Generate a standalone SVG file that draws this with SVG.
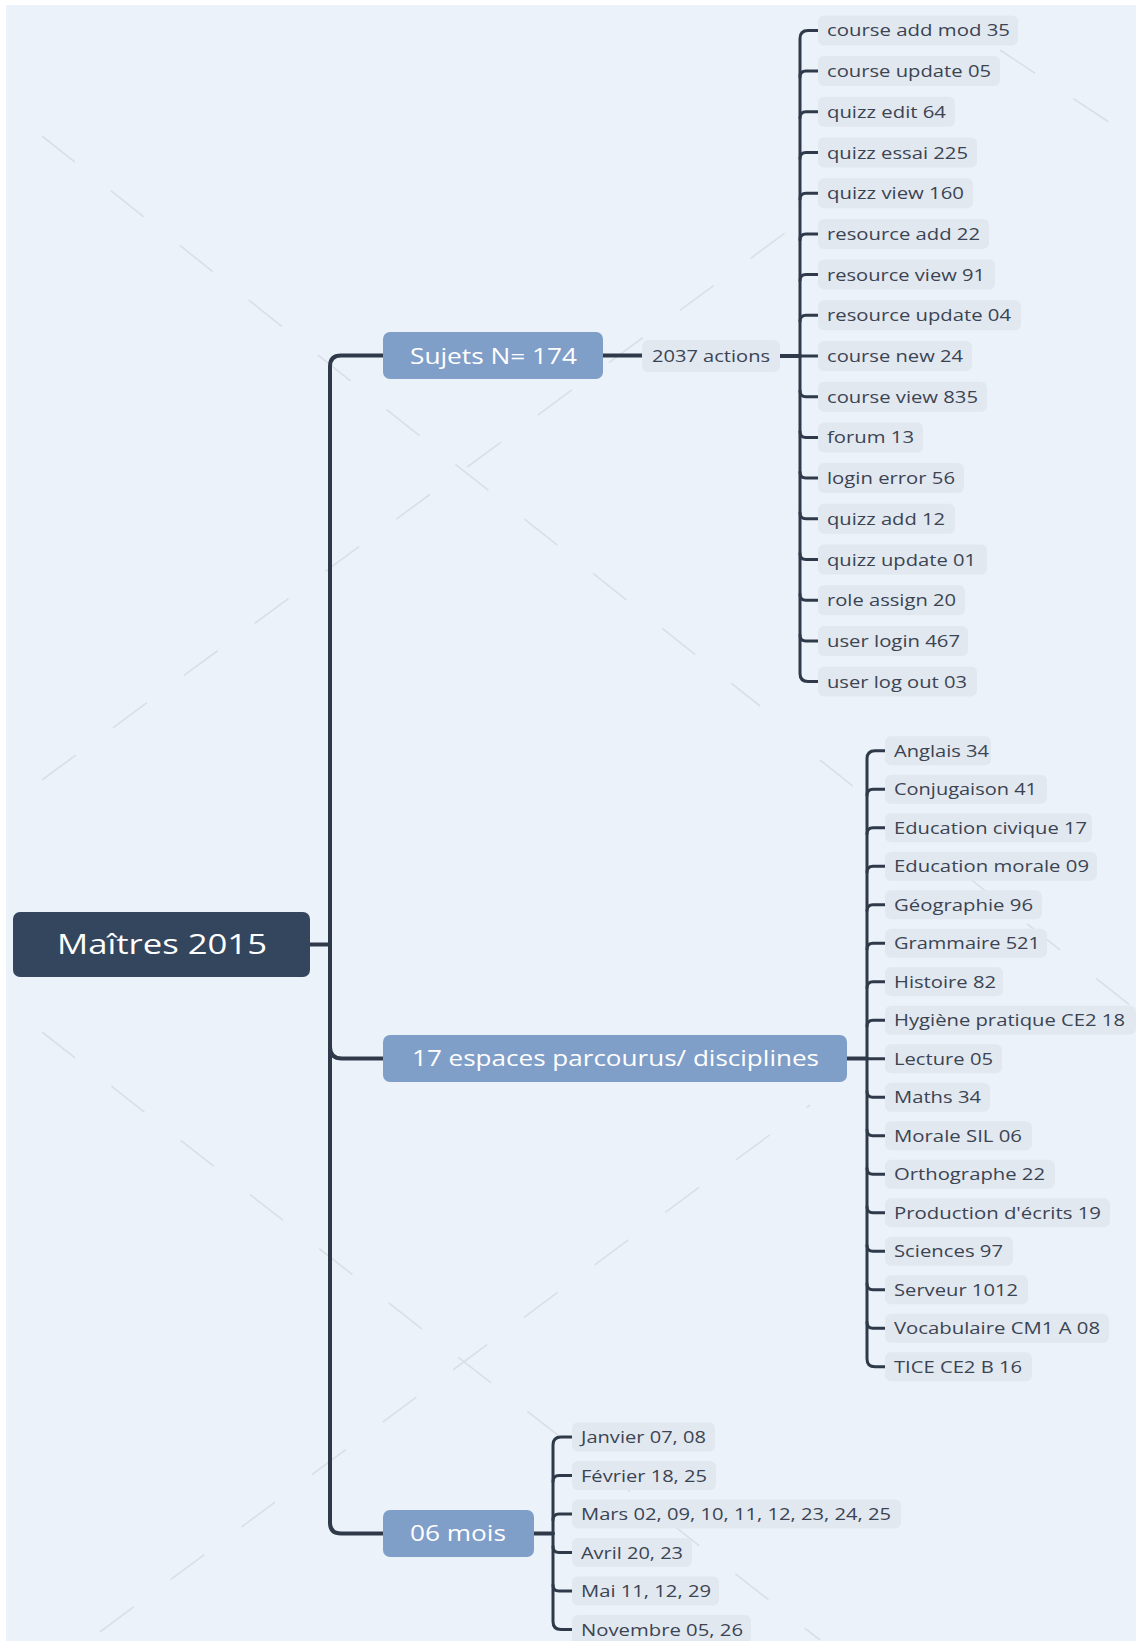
<svg xmlns="http://www.w3.org/2000/svg" width="1136" height="1641" viewBox="0 0 1136 1641">
  <style>
    .bg { fill: #ecf2f9; }
    .wm { fill: none; stroke: #d9dfe7; stroke-width: 1.6; stroke-dasharray: 42 46; }
    .root rect { fill: #34465d; }
    .root text { fill: #ffffff; font-family: "Open Sans", "Noto Sans", sans-serif; font-size: 28px; }
    .branch rect { fill: #7f9ec8; }
    .branch text { fill: #ffffff; font-family: "Open Sans", "Noto Sans", sans-serif; font-size: 22px; }
    .leaf rect { fill: #e2e8f0; }
    .leaf text { fill: #3b4452; font-family: "Open Sans", "Noto Sans", sans-serif; font-size: 17px; }
    .conn path { fill: none; stroke: #2e3a4a; stroke-linecap: round; }
    .main { stroke-width: 4; }
    .sub { stroke-width: 3; }
  </style>

  <rect x="0" y="0" width="1136" height="1641" fill="#ffffff"/>
  <rect class="bg" x="6" y="5" width="1130" height="1636"/>

  <g id="watermark">
    <path class="wm" d="M42 136 L760 706"/>
    <path class="wm" d="M42 780 L800 222"/>
    <path class="wm" d="M42 1032 L820 1640"/>
    <path class="wm" d="M100 1632 L810 1105"/>
    <path class="wm" d="M1000 50 L1136 140"/>
    <path class="wm" d="M820 760 L1136 1010"/>
  </g>

  <g id="connectors" class="conn">
    <path class="main" d="M310 944.5 H330"/>
    <path class="main" d="M383 355.5 H341 Q330 355.5 330 366.5 V1522.5 Q330 1533.5 341 1533.5 H383"/>
    <path class="main" d="M330 1047 Q330 1058.5 342 1058.5 H383"/>
    <path class="main" d="M603 355.5 H642"/>
    <path class="main" d="M780 356 H800"/>
    <path class="main" d="M847 1058.5 H867"/>
    <path class="main" d="M534 1533.5 H553"/>

    <!-- group 1 bracket -->
    <path class="sub" d="M818 30.4 H808 Q800 30.4 800 38.4 V673.6 Q800 681.6 808 681.6 H818"/>
    <path class="sub" d="M800 77.1 Q800 71.1 806 71.1 H818"/>
    <path class="sub" d="M800 117.8 Q800 111.8 806 111.8 H818"/>
    <path class="sub" d="M800 158.5 Q800 152.5 806 152.5 H818"/>
    <path class="sub" d="M800 199.2 Q800 193.2 806 193.2 H818"/>
    <path class="sub" d="M800 239.9 Q800 233.9 806 233.9 H818"/>
    <path class="sub" d="M800 280.6 Q800 274.6 806 274.6 H818"/>
    <path class="sub" d="M800 321.3 Q800 315.3 806 315.3 H818"/>
    <path class="sub" d="M800 356 H818"/>
    <path class="sub" d="M800 390.7 Q800 396.7 806 396.7 H818"/>
    <path class="sub" d="M800 431.4 Q800 437.4 806 437.4 H818"/>
    <path class="sub" d="M800 472.1 Q800 478.1 806 478.1 H818"/>
    <path class="sub" d="M800 512.8 Q800 518.8 806 518.8 H818"/>
    <path class="sub" d="M800 553.5 Q800 559.5 806 559.5 H818"/>
    <path class="sub" d="M800 594.2 Q800 600.2 806 600.2 H818"/>
    <path class="sub" d="M800 634.9 Q800 640.9 806 640.9 H818"/>

    <!-- group 2 bracket -->
    <path class="sub" d="M885 750.7 H875 Q867 750.7 867 758.7 V1358.7 Q867 1366.7 875 1366.7 H885"/>
    <path class="sub" d="M867 795.2 Q867 789.2 873 789.2 H885"/>
    <path class="sub" d="M867 833.7 Q867 827.7 873 827.7 H885"/>
    <path class="sub" d="M867 872.2 Q867 866.2 873 866.2 H885"/>
    <path class="sub" d="M867 910.7 Q867 904.7 873 904.7 H885"/>
    <path class="sub" d="M867 949.2 Q867 943.2 873 943.2 H885"/>
    <path class="sub" d="M867 987.7 Q867 981.7 873 981.7 H885"/>
    <path class="sub" d="M867 1026.2 Q867 1020.2 873 1020.2 H885"/>
    <path class="sub" d="M867 1058.7 H885"/>
    <path class="sub" d="M867 1091.2 Q867 1097.2 873 1097.2 H885"/>
    <path class="sub" d="M867 1129.7 Q867 1135.7 873 1135.7 H885"/>
    <path class="sub" d="M867 1168.2 Q867 1174.2 873 1174.2 H885"/>
    <path class="sub" d="M867 1206.7 Q867 1212.7 873 1212.7 H885"/>
    <path class="sub" d="M867 1245.2 Q867 1251.2 873 1251.2 H885"/>
    <path class="sub" d="M867 1283.7 Q867 1289.7 873 1289.7 H885"/>
    <path class="sub" d="M867 1322.2 Q867 1328.2 873 1328.2 H885"/>

    <!-- group 3 bracket -->
    <path class="sub" d="M572 1437 H561 Q553 1437 553 1445 V1621.5 Q553 1629.5 561 1629.5 H572"/>
    <path class="sub" d="M553 1481.5 Q553 1475.5 559 1475.5 H572"/>
    <path class="sub" d="M553 1520 Q553 1514 559 1514 H572"/>
    <path class="sub" d="M553 1546.5 Q553 1552.5 559 1552.5 H572"/>
    <path class="sub" d="M553 1585 Q553 1591 559 1591 H572"/>
  </g>

  <g id="root" class="root">
    <rect x="13" y="912" width="297" height="65" rx="7"/>
    <text x="57" y="954" textLength="210" lengthAdjust="spacingAndGlyphs">Maîtres 2015</text>
  </g>

  <g id="sujets" class="branch">
    <rect x="383" y="332" width="220" height="47" rx="7"/>
    <text x="410" y="363.5" textLength="167" lengthAdjust="spacingAndGlyphs">Sujets N= 174</text>
  </g>
  <g id="espaces" class="branch">
    <rect x="383" y="1035" width="464" height="47" rx="7"/>
    <text x="412" y="1066" textLength="407" lengthAdjust="spacingAndGlyphs">17 espaces parcourus/ disciplines</text>
  </g>
  <g id="mois" class="branch">
    <rect x="383" y="1510" width="151" height="47" rx="7"/>
    <text x="410" y="1541" textLength="96" lengthAdjust="spacingAndGlyphs">06 mois</text>
  </g>

  <g id="actions" class="leaf">
    <rect x="642" y="340" width="138" height="32" rx="6"/>
    <text x="652" y="362" textLength="118" lengthAdjust="spacingAndGlyphs">2037 actions</text>
  </g>

  <!-- group 1 leaves -->
  <g id="a1" class="leaf"><rect x="818" y="15.4" width="200" height="30" rx="6"/><text x="827" y="36.4" textLength="183" lengthAdjust="spacingAndGlyphs">course add mod 35</text></g>
  <g id="a2" class="leaf"><rect x="818" y="56.1" width="182" height="30" rx="6"/><text x="827" y="77.1" textLength="164" lengthAdjust="spacingAndGlyphs">course update 05</text></g>
  <g id="a3" class="leaf"><rect x="818" y="96.8" width="137" height="30" rx="6"/><text x="827" y="117.8" textLength="119" lengthAdjust="spacingAndGlyphs">quizz edit 64</text></g>
  <g id="a4" class="leaf"><rect x="818" y="137.5" width="159" height="30" rx="6"/><text x="827" y="158.5" textLength="141" lengthAdjust="spacingAndGlyphs">quizz essai 225</text></g>
  <g id="a5" class="leaf"><rect x="818" y="178.2" width="155" height="30" rx="6"/><text x="827" y="199.2" textLength="137" lengthAdjust="spacingAndGlyphs">quizz view 160</text></g>
  <g id="a6" class="leaf"><rect x="818" y="218.9" width="171" height="30" rx="6"/><text x="827" y="239.9" textLength="153" lengthAdjust="spacingAndGlyphs">resource add 22</text></g>
  <g id="a7" class="leaf"><rect x="818" y="259.6" width="177" height="30" rx="6"/><text x="827" y="280.6" textLength="158" lengthAdjust="spacingAndGlyphs">resource view 91</text></g>
  <g id="a8" class="leaf"><rect x="818" y="300.3" width="203" height="30" rx="6"/><text x="827" y="321.3" textLength="184" lengthAdjust="spacingAndGlyphs">resource update 04</text></g>
  <g id="a9" class="leaf"><rect x="818" y="341" width="154" height="30" rx="6"/><text x="827" y="362" textLength="136" lengthAdjust="spacingAndGlyphs">course new 24</text></g>
  <g id="a10" class="leaf"><rect x="818" y="381.7" width="169" height="30" rx="6"/><text x="827" y="402.7" textLength="151" lengthAdjust="spacingAndGlyphs">course view 835</text></g>
  <g id="a11" class="leaf"><rect x="818" y="422.4" width="105" height="30" rx="6"/><text x="827" y="443.4" textLength="87" lengthAdjust="spacingAndGlyphs">forum 13</text></g>
  <g id="a12" class="leaf"><rect x="818" y="463.1" width="146" height="30" rx="6"/><text x="827" y="484.1" textLength="128" lengthAdjust="spacingAndGlyphs">login error 56</text></g>
  <g id="a13" class="leaf"><rect x="818" y="503.8" width="137" height="30" rx="6"/><text x="827" y="524.8" textLength="118" lengthAdjust="spacingAndGlyphs">quizz add 12</text></g>
  <g id="a14" class="leaf"><rect x="818" y="544.5" width="169" height="30" rx="6"/><text x="827" y="565.5" textLength="149" lengthAdjust="spacingAndGlyphs">quizz update 01</text></g>
  <g id="a15" class="leaf"><rect x="818" y="585.2" width="147" height="30" rx="6"/><text x="827" y="606.2" textLength="129" lengthAdjust="spacingAndGlyphs">role assign 20</text></g>
  <g id="a16" class="leaf"><rect x="818" y="625.9" width="150" height="30" rx="6"/><text x="827" y="646.9" textLength="133" lengthAdjust="spacingAndGlyphs">user login 467</text></g>
  <g id="a17" class="leaf"><rect x="818" y="666.6" width="159" height="30" rx="6"/><text x="827" y="687.6" textLength="140" lengthAdjust="spacingAndGlyphs">user log out 03</text></g>

  <!-- group 2 leaves -->
  <g id="d1" class="leaf"><rect x="885" y="736.2" width="106" height="29" rx="6"/><text x="894" y="756.7" textLength="95" lengthAdjust="spacingAndGlyphs">Anglais 34</text></g>
  <g id="d2" class="leaf"><rect x="885" y="774.7" width="162" height="29" rx="6"/><text x="894" y="795.2" textLength="143" lengthAdjust="spacingAndGlyphs">Conjugaison 41</text></g>
  <g id="d3" class="leaf"><rect x="885" y="813.2" width="207" height="29" rx="6"/><text x="894" y="833.7" textLength="193" lengthAdjust="spacingAndGlyphs">Education civique 17</text></g>
  <g id="d4" class="leaf"><rect x="885" y="851.7" width="212" height="29" rx="6"/><text x="894" y="872.2" textLength="195" lengthAdjust="spacingAndGlyphs">Education morale 09</text></g>
  <g id="d5" class="leaf"><rect x="885" y="890.2" width="157" height="29" rx="6"/><text x="894" y="910.7" textLength="139" lengthAdjust="spacingAndGlyphs">Géographie 96</text></g>
  <g id="d6" class="leaf"><rect x="885" y="928.7" width="162" height="29" rx="6"/><text x="894" y="949.2" textLength="146" lengthAdjust="spacingAndGlyphs">Grammaire 521</text></g>
  <g id="d7" class="leaf"><rect x="885" y="967.2" width="118" height="29" rx="6"/><text x="894" y="987.7" textLength="102" lengthAdjust="spacingAndGlyphs">Histoire 82</text></g>
  <g id="d8" class="leaf"><rect x="885" y="1005.7" width="251" height="29" rx="6"/><text x="894" y="1026.2" textLength="231" lengthAdjust="spacingAndGlyphs">Hygiène pratique CE2 18</text></g>
  <g id="d9" class="leaf"><rect x="885" y="1044.2" width="117" height="29" rx="6"/><text x="894" y="1064.7" textLength="99" lengthAdjust="spacingAndGlyphs">Lecture 05</text></g>
  <g id="d10" class="leaf"><rect x="885" y="1082.7" width="105" height="29" rx="6"/><text x="894" y="1103.2" textLength="87" lengthAdjust="spacingAndGlyphs">Maths 34</text></g>
  <g id="d11" class="leaf"><rect x="885" y="1121.2" width="147" height="29" rx="6"/><text x="894" y="1141.7" textLength="128" lengthAdjust="spacingAndGlyphs">Morale SIL 06</text></g>
  <g id="d12" class="leaf"><rect x="885" y="1159.7" width="170" height="29" rx="6"/><text x="894" y="1180.2" textLength="151" lengthAdjust="spacingAndGlyphs">Orthographe 22</text></g>
  <g id="d13" class="leaf"><rect x="885" y="1198.2" width="225" height="29" rx="6"/><text x="894" y="1218.7" textLength="207" lengthAdjust="spacingAndGlyphs">Production d'écrits 19</text></g>
  <g id="d14" class="leaf"><rect x="885" y="1236.7" width="128" height="29" rx="6"/><text x="894" y="1257.2" textLength="109" lengthAdjust="spacingAndGlyphs">Sciences 97</text></g>
  <g id="d15" class="leaf"><rect x="885" y="1275.2" width="143" height="29" rx="6"/><text x="894" y="1295.7" textLength="124" lengthAdjust="spacingAndGlyphs">Serveur 1012</text></g>
  <g id="d16" class="leaf"><rect x="885" y="1313.7" width="224" height="29" rx="6"/><text x="894" y="1334.2" textLength="206" lengthAdjust="spacingAndGlyphs">Vocabulaire CM1 A 08</text></g>
  <g id="d17" class="leaf"><rect x="885" y="1352.2" width="147" height="29" rx="6"/><text x="894" y="1372.7" textLength="128" lengthAdjust="spacingAndGlyphs">TICE CE2 B 16</text></g>

  <!-- group 3 leaves -->
  <g id="m1" class="leaf"><rect x="572" y="1422.5" width="143" height="29" rx="6"/><text x="581" y="1443" textLength="125" lengthAdjust="spacingAndGlyphs">Janvier 07, 08</text></g>
  <g id="m2" class="leaf"><rect x="572" y="1461" width="144" height="29" rx="6"/><text x="581" y="1481.5" textLength="126" lengthAdjust="spacingAndGlyphs">Février 18, 25</text></g>
  <g id="m3" class="leaf"><rect x="572" y="1499.5" width="329" height="29" rx="6"/><text x="581" y="1520" textLength="310" lengthAdjust="spacingAndGlyphs">Mars 02, 09, 10, 11, 12, 23, 24, 25</text></g>
  <g id="m4" class="leaf"><rect x="572" y="1538" width="120" height="29" rx="6"/><text x="581" y="1558.5" textLength="102" lengthAdjust="spacingAndGlyphs">Avril 20, 23</text></g>
  <g id="m5" class="leaf"><rect x="572" y="1576.5" width="147" height="29" rx="6"/><text x="581" y="1597" textLength="130" lengthAdjust="spacingAndGlyphs">Mai 11, 12, 29</text></g>
  <g id="m6" class="leaf"><rect x="572" y="1615" width="179" height="29" rx="6"/><text x="581" y="1635.5" textLength="162" lengthAdjust="spacingAndGlyphs">Novembre 05, 26</text></g>
</svg>
